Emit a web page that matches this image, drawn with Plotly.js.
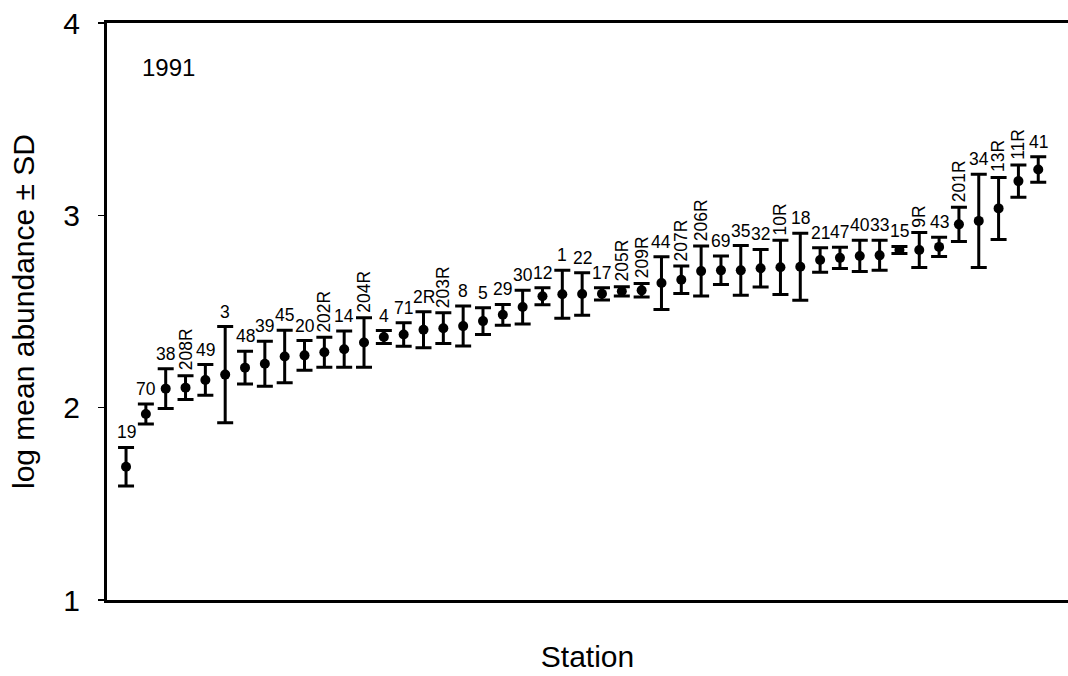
<!DOCTYPE html>
<html>
<head>
<meta charset="utf-8">
<script src="https://cdn.plot.ly/plotly-3.0.1.min.js"></script>
<style>html,body{margin:0;padding:0;background:#fff;}#chart{width:1068px;height:676px;}</style>
</head>
<body>
<div id="chart"></div>
<script>
// Stations, ordered as plotted
const stations = ['19','70','38','208R','49','3','48','39','45','20','202R','14','204R','4','71','2R','203R','8','5','29','30','12','1','22','17','205R','209R','44','207R','206R','69','35','32','10R','18','21','47','40','33','15','9R','43','201R','34','13R','11R','41'];
// log mean abundance
const meanAbundance = [1.693,1.967,2.099,2.104,2.144,2.172,2.208,2.228,2.266,2.272,2.288,2.304,2.339,2.367,2.380,2.405,2.413,2.424,2.450,2.483,2.523,2.579,2.590,2.591,2.592,2.605,2.610,2.648,2.665,2.710,2.714,2.714,2.725,2.730,2.733,2.768,2.779,2.789,2.792,2.820,2.820,2.836,2.953,2.971,3.036,3.178,3.238];
// standard deviation
const sdAbundance = [0.100,0.052,0.103,0.062,0.080,0.250,0.085,0.117,0.137,0.077,0.078,0.094,0.129,0.034,0.061,0.094,0.080,0.104,0.070,0.054,0.088,0.044,0.125,0.111,0.032,0.024,0.035,0.137,0.071,0.130,0.074,0.129,0.098,0.141,0.174,0.064,0.055,0.081,0.078,0.018,0.091,0.050,0.089,0.242,0.161,0.084,0.066];
const yTickVals = [1,2,3,4];
const yearLabel = '1991';
// labels drawn vertically
const verticalLabels = ['208R','202R','204R','203R','205R','209R','207R','206R','10R','9R','201R','13R','11R'];

const xIdx = stations.map((s,i)=>i+1);
const FONT = '"Liberation Sans", Arial, sans-serif';

const trace = {
  x: xIdx, y: meanAbundance, type:'scatter', mode:'markers',
  text: stations, hoverinfo:'text+y',
  marker:{color:'#000', size:10},
  error_y:{type:'data', array: sdAbundance, visible:true, color:'#000', thickness:3, width:8}
};

const annotations = stations.map((s,i)=>{
  const vert = verticalLabels.includes(s);
  return {
    x: xIdx[i], y: meanAbundance[i] + sdAbundance[i], xref:'x', yref:'y',
    text: s, showarrow:false, textangle: vert ? -90 : 0,
    xanchor:'center', yanchor:'bottom', yshift: 3,
    font:{family:FONT, size:17.5, color:'#000'}
  };
});
annotations.push({
  x: (168-107)/961, y: (600-67)/577, xref:'paper', yref:'paper',
  xanchor:'center', yanchor:'middle',
  text: yearLabel, showarrow:false,
  font:{family:FONT, size:24, color:'#000'}
});

const layout = {
  width:1068, height:676,
  margin:{l:107, r:0, t:23, b:76, pad:0},
  paper_bgcolor:'#fff', plot_bgcolor:'#fff',
  showlegend:false,
  font:{family:FONT, color:'#000'},
  xaxis:{
    range:[0.04,48.5], showgrid:false, zeroline:false,
    showline:true, linecolor:'#000', linewidth:3, mirror:true,
    ticks:'', showticklabels:false,
    title:{text:'Station', font:{family:FONT, size:30, color:'#000'}, standoff:44}
  },
  yaxis:{
    range:[1,4], tickvals:yTickVals, ticktext:yTickVals.map(String),
    showgrid:false, zeroline:false,
    showline:true, linecolor:'#000', linewidth:3, mirror:false,
    ticks:'outside', ticklen:6, tickwidth:1.5, tickcolor:'#000',
    ticklabelstandoff:12,
    tickfont:{family:FONT, size:30, color:'#000'},
    title:{text:'log mean abundance ± SD', font:{family:FONT, size:30, color:'#000'}, standoff:20}
  },
  annotations: annotations
};

Plotly.newPlot('chart', [trace], layout, {displayModeBar:false, staticPlot:true});
</script>
</body>
</html>
